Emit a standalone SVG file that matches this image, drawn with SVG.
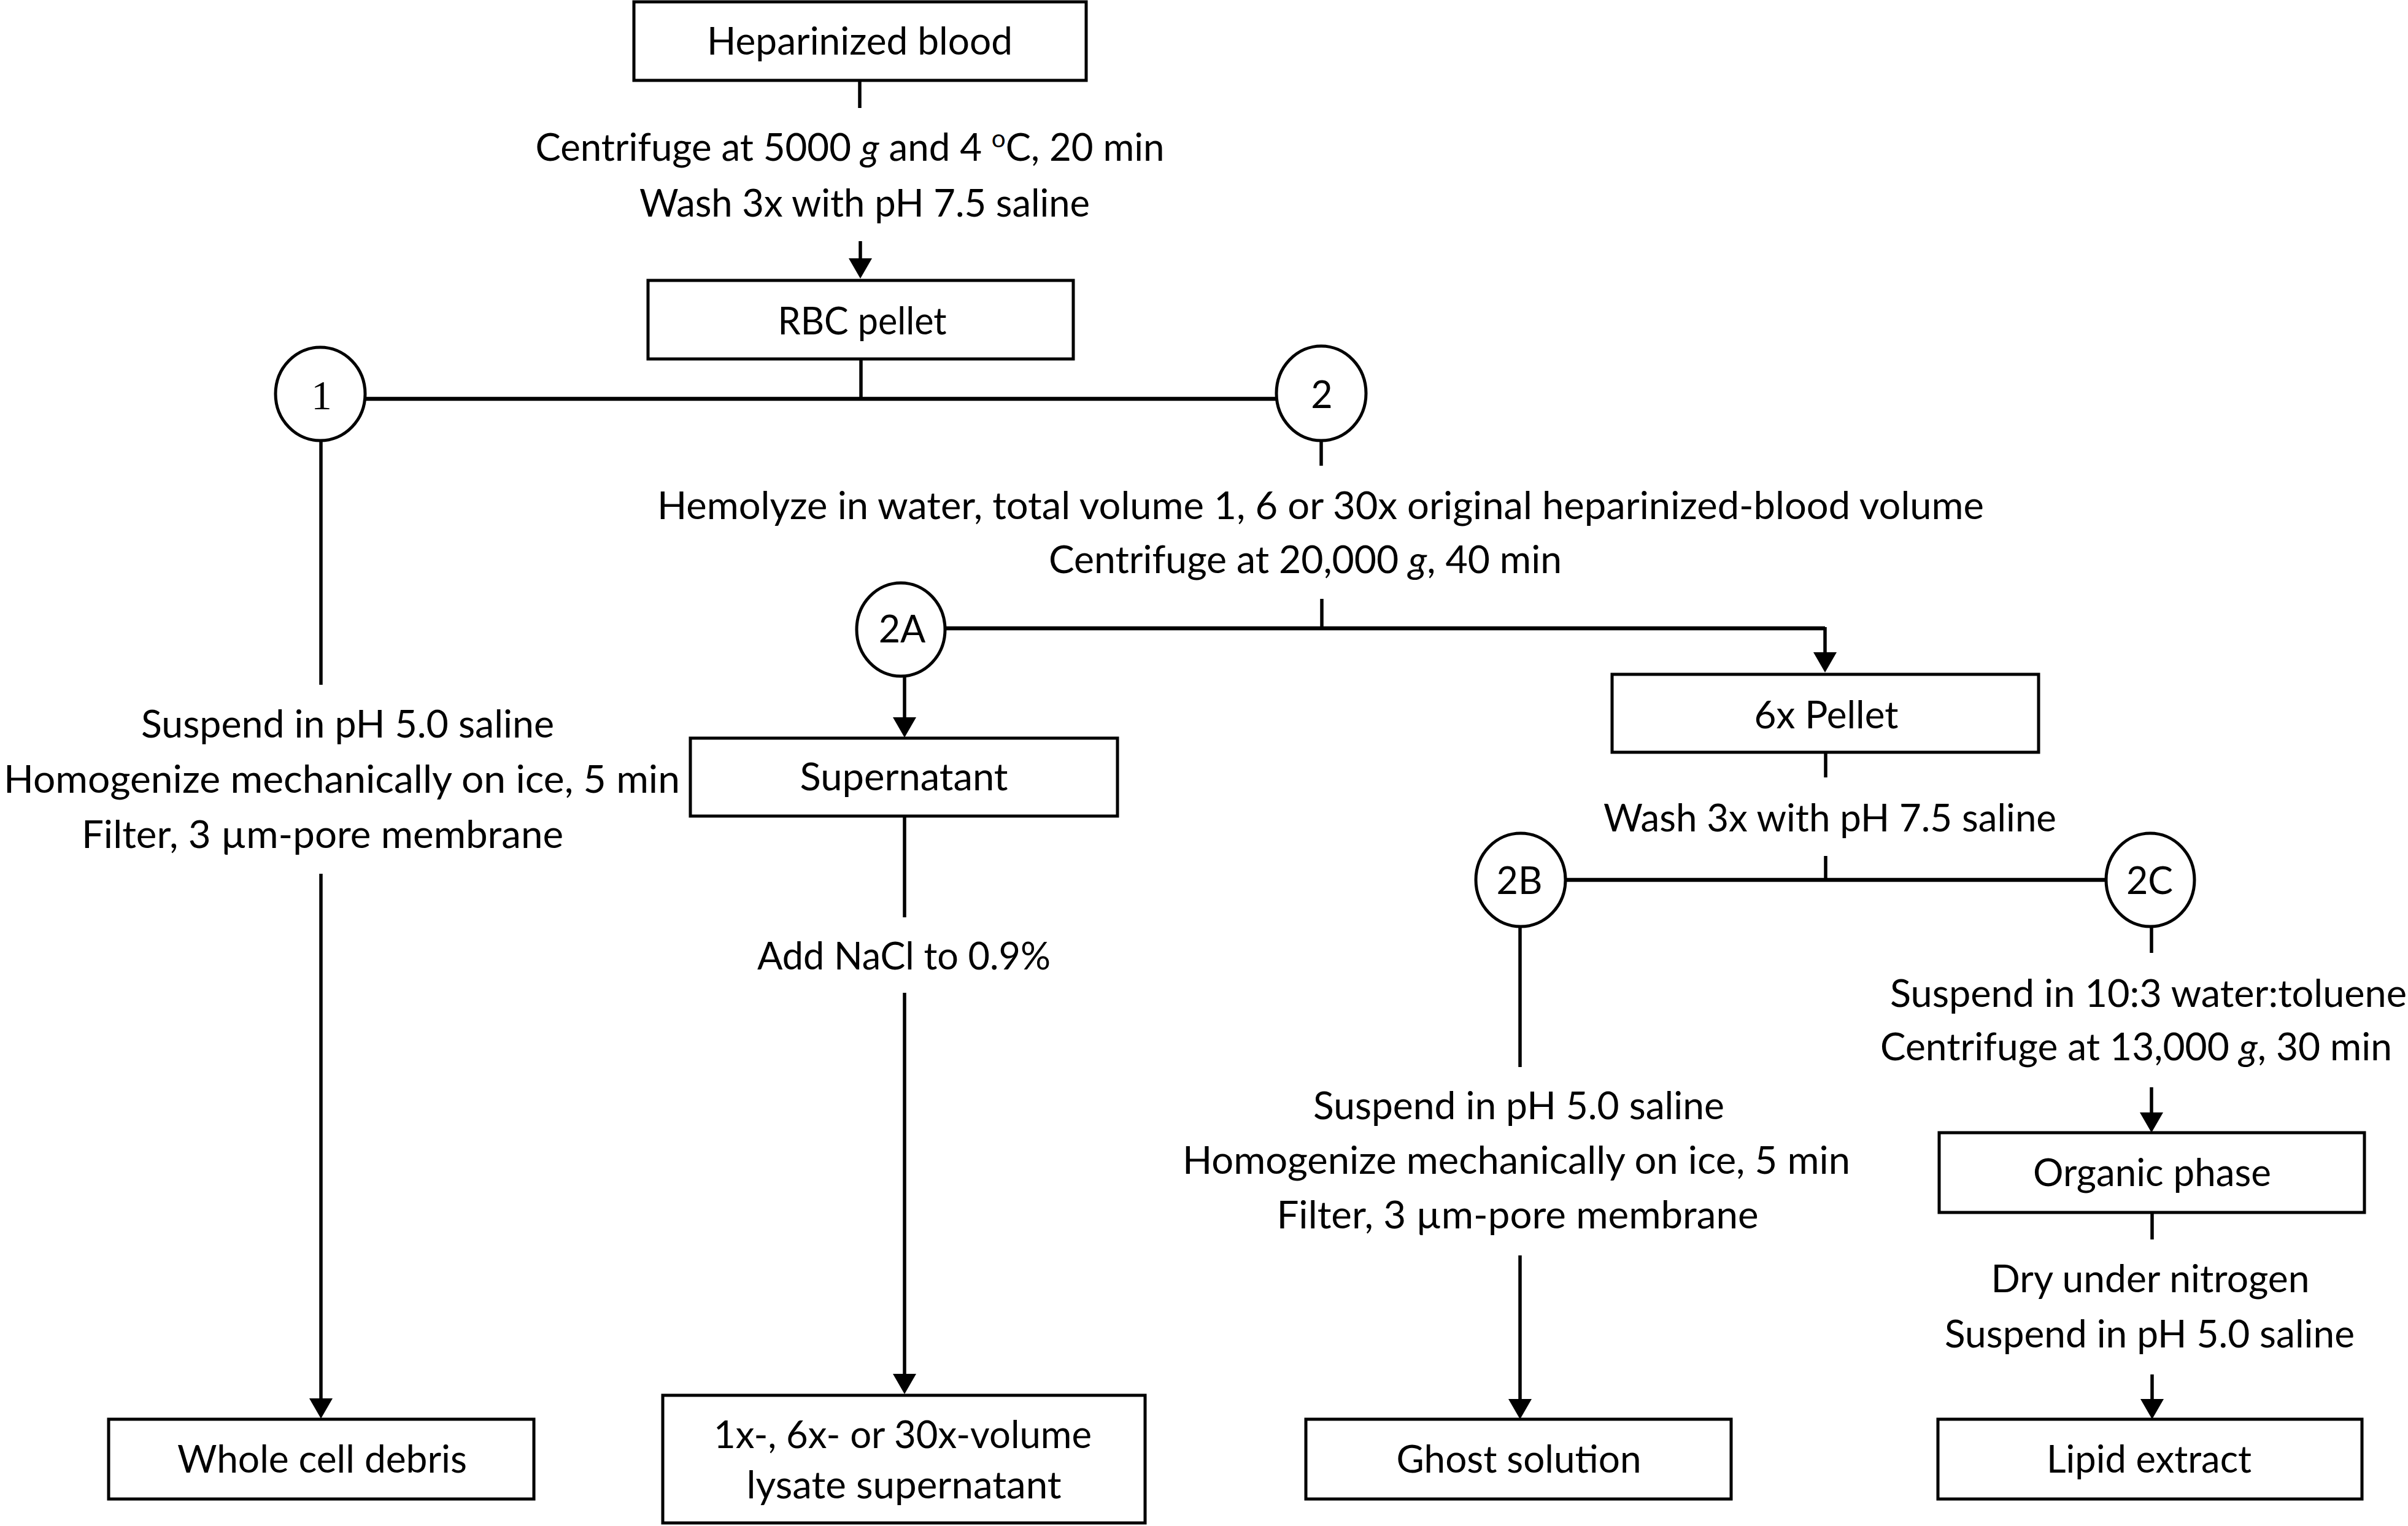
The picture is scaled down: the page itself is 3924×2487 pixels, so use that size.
<svg xmlns="http://www.w3.org/2000/svg" width="3924" height="2487" viewBox="0 0 3924 2487">
<style>
.box{fill:#fff;stroke:#000;stroke-width:5}
.circ{fill:#fff;stroke:#000;stroke-width:5}
.ln{stroke:#000;stroke-width:5.5;fill:none}
.hl{stroke:#000;stroke-width:6.5;fill:none}
text{font-family:Lato,"Open Sans",sans-serif;font-size:61px;fill:#000}
.mid{text-anchor:middle}
.serif{font-family:"Liberation Serif","DejaVu Serif",serif;font-size:67px}
.it{font-style:italic}
</style>
<defs>
<marker id="ah" markerUnits="userSpaceOnUse" markerWidth="34" markerHeight="38" viewBox="0 0 34 38" refX="0" refY="19" orient="auto">
<path d="M0,0 L33,19 L0,38 z" fill="#000"/>
</marker>
</defs>
<rect width="3924" height="2487" fill="#fff"/>

<g id="connectors">
<line class="ln" x1="1401" y1="131" x2="1401" y2="176"/>
<line class="ln" x1="1402" y1="393" x2="1402" y2="421" marker-end="url(#ah)"/>
<line class="ln" x1="1403" y1="585" x2="1403" y2="650"/>
<line class="hl" x1="594" y1="650" x2="2080" y2="650"/>
<line class="ln" x1="523" y1="718" x2="523" y2="1116"/>
<line class="ln" x1="523" y1="1424" x2="523" y2="2279" marker-end="url(#ah)"/>
<line class="ln" x1="2153" y1="718" x2="2153" y2="759"/>
<line class="ln" x1="2154" y1="976" x2="2154" y2="1024"/>
<path class="hl" d="M1540,1024 H2974"/>
<line class="ln" x1="2974" y1="1022" x2="2974" y2="1063" marker-end="url(#ah)"/>
<line class="ln" x1="1474" y1="1102" x2="1474" y2="1169" marker-end="url(#ah)"/>
<line class="ln" x1="1474" y1="1330" x2="1474" y2="1495"/>
<line class="ln" x1="1474" y1="1618" x2="1474" y2="2239" marker-end="url(#ah)"/>
<line class="ln" x1="2975" y1="1226" x2="2975" y2="1267"/>
<line class="ln" x1="2975" y1="1395" x2="2975" y2="1434"/>
<line class="hl" x1="2551" y1="1434" x2="3431" y2="1434"/>
<line class="ln" x1="2477" y1="1510" x2="2477" y2="1739"/>
<line class="ln" x1="2477" y1="2046" x2="2477" y2="2280" marker-end="url(#ah)"/>
<line class="ln" x1="3506" y1="1510" x2="3506" y2="1553"/>
<line class="ln" x1="3506" y1="1772" x2="3506" y2="1813" marker-end="url(#ah)"/>
<line class="ln" x1="3507" y1="1976" x2="3507" y2="2020"/>
<line class="ln" x1="3507" y1="2240" x2="3507" y2="2280" marker-end="url(#ah)"/>
</g>

<g id="labels">
<text x="1385" y="262" class="mid" textLength="1025" lengthAdjust="spacingAndGlyphs">Centrifuge at 5000 <tspan class="it">g</tspan> and 4 <tspan font-size="40" dy="-22">o</tspan><tspan dy="22">C, 20 min</tspan></text>
<text x="1409" y="353" class="mid" textLength="734" lengthAdjust="spacingAndGlyphs">Wash 3x with pH 7.5 saline</text>
<text x="2152" y="846" class="mid" textLength="2162" lengthAdjust="spacingAndGlyphs">Hemolyze in water, total volume 1, 6 or 30x original heparinized-blood volume</text>
<text x="2127" y="934" class="mid" textLength="836" lengthAdjust="spacingAndGlyphs">Centrifuge at 20,000 <tspan class="it">g</tspan>, 40 min</text>
<text x="230" y="1202" textLength="673" lengthAdjust="spacingAndGlyphs">Suspend in pH 5.0 saline</text>
<text x="6" y="1292" textLength="1102" lengthAdjust="spacingAndGlyphs">Homogenize mechanically on ice, 5 min</text>
<text x="133" y="1382" textLength="785" lengthAdjust="spacingAndGlyphs">Filter, 3 µm-pore membrane</text>
<text x="1473" y="1580" class="mid" textLength="478" lengthAdjust="spacingAndGlyphs">Add NaCl to 0.9%</text>
<text x="2982" y="1355" class="mid" textLength="738" lengthAdjust="spacingAndGlyphs">Wash 3x with pH 7.5 saline</text>
<text x="2475" y="1824" class="mid" textLength="670" lengthAdjust="spacingAndGlyphs">Suspend in pH 5.0 saline</text>
<text x="2471" y="1913" class="mid" textLength="1088" lengthAdjust="spacingAndGlyphs">Homogenize mechanically on ice, 5 min</text>
<text x="2473" y="2002" class="mid" textLength="785" lengthAdjust="spacingAndGlyphs">Filter, 3 µm-pore membrane</text>
<text x="3080" y="1641" textLength="842" lengthAdjust="spacingAndGlyphs">Suspend in 10:3 water:toluene</text>
<text x="3064" y="1728" textLength="834" lengthAdjust="spacingAndGlyphs">Centrifuge at 13,000 <tspan class="it">g</tspan>, 30 min</text>
<text x="3504" y="2106" class="mid" textLength="519" lengthAdjust="spacingAndGlyphs">Dry under nitrogen</text>
<text x="3503" y="2196" class="mid" textLength="668" lengthAdjust="spacingAndGlyphs">Suspend in pH 5.0 saline</text>
</g>

<g id="heparinized-blood">
<rect class="box" x="1033" y="3" width="737" height="128"/>
<text x="1401" y="89" class="mid" textLength="498" lengthAdjust="spacingAndGlyphs">Heparinized blood</text>
</g>
<g id="rbc-pellet">
<rect class="box" x="1056" y="457" width="693" height="128"/>
<text x="1405" y="545" class="mid" textLength="275" lengthAdjust="spacingAndGlyphs">RBC pellet</text>
</g>
<g id="branch-1">
<ellipse class="circ" cx="522" cy="642" rx="73" ry="76"/>
<text x="524" y="667" class="mid serif">1</text>
</g>
<g id="branch-2">
<ellipse class="circ" cx="2153" cy="641" rx="73" ry="77"/>
<text x="2154" y="665" class="mid">2</text>
</g>
<g id="branch-2A">
<ellipse class="circ" cx="1468" cy="1026" rx="72" ry="76"/>
<text x="1470" y="1047" class="mid">2A</text>
</g>
<g id="supernatant">
<rect class="box" x="1125" y="1203" width="696" height="127"/>
<text x="1473" y="1288" class="mid" textLength="339" lengthAdjust="spacingAndGlyphs">Supernatant</text>
</g>
<g id="pellet-6x">
<rect class="box" x="2627" y="1099" width="695" height="127"/>
<text x="2976" y="1187" class="mid" textLength="235" lengthAdjust="spacingAndGlyphs">6x Pellet</text>
</g>
<g id="branch-2B">
<ellipse class="circ" cx="2478" cy="1434" rx="73" ry="76"/>
<text x="2476" y="1457" class="mid">2B</text>
</g>
<g id="branch-2C">
<ellipse class="circ" cx="3504" cy="1434" rx="72" ry="76"/>
<text x="3503" y="1457" class="mid">2C</text>
</g>
<g id="organic-phase">
<rect class="box" x="3160" y="1846" width="693" height="130"/>
<text x="3507" y="1933" class="mid" textLength="388" lengthAdjust="spacingAndGlyphs">Organic phase</text>
</g>
<g id="whole-cell-debris">
<rect class="box" x="177" y="2313" width="693" height="130"/>
<text x="525" y="2400" class="mid" textLength="472" lengthAdjust="spacingAndGlyphs">Whole cell debris</text>
</g>
<g id="lysate-supernatant">
<rect class="box" x="1080" y="2274" width="786" height="208"/>
<text x="1471" y="2360" class="mid" textLength="616" lengthAdjust="spacingAndGlyphs">1x-, 6x- or 30x-volume</text>
<text x="1473" y="2442" class="mid" textLength="513" lengthAdjust="spacingAndGlyphs">lysate supernatant</text>
</g>
<g id="ghost-solution">
<rect class="box" x="2128" y="2313" width="693" height="130"/>
<text x="2475" y="2400" class="mid" textLength="399" lengthAdjust="spacingAndGlyphs">Ghost solution</text>
</g>
<g id="lipid-extract">
<rect class="box" x="3158" y="2313" width="691" height="130"/>
<text x="3502" y="2400" class="mid" textLength="334" lengthAdjust="spacingAndGlyphs">Lipid extract</text>
</g>
</svg>
